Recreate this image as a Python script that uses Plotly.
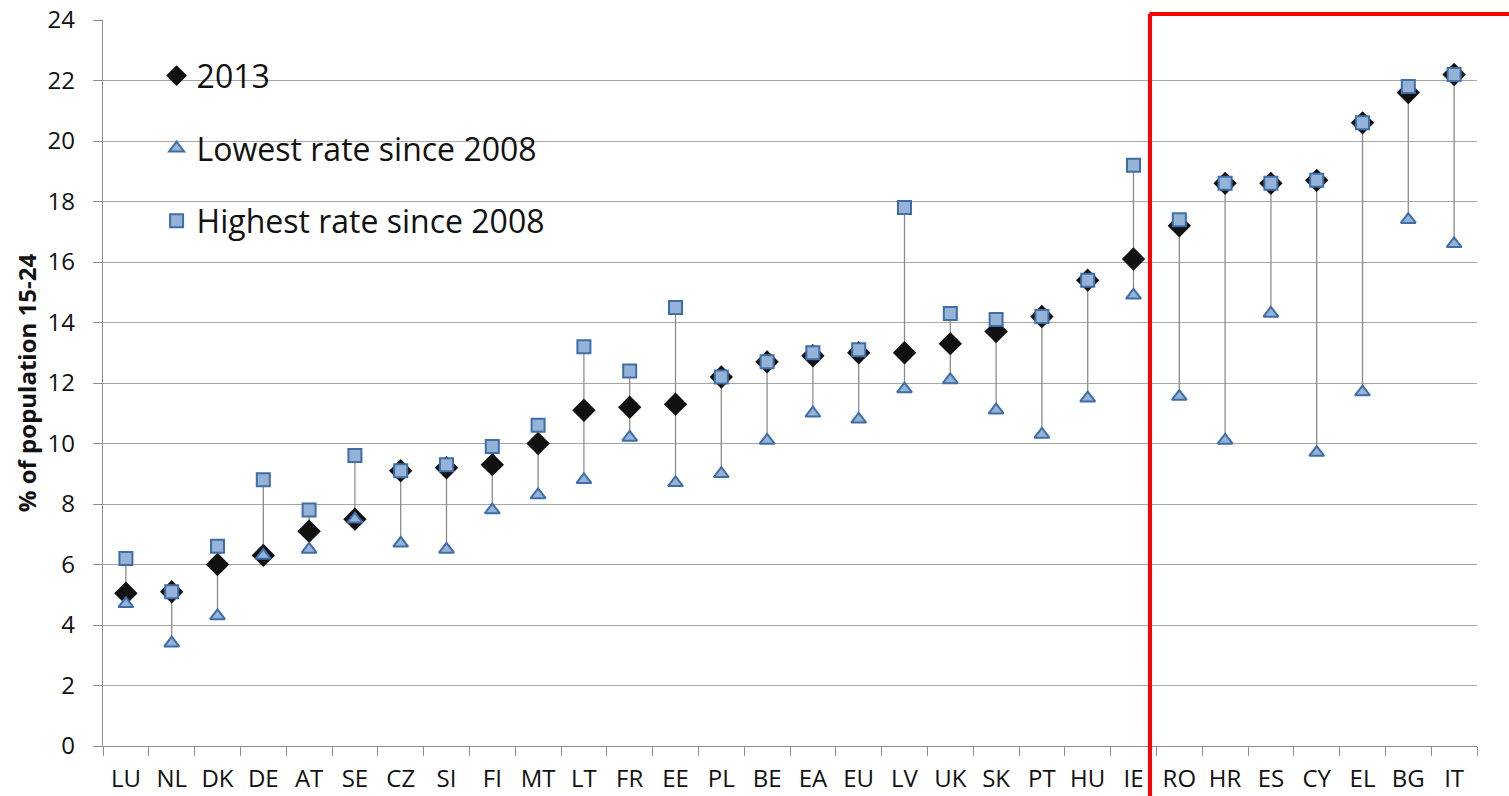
import plotly.graph_objects as go

# youth NEET-style rates, % of population aged 15-24
countries = ["LU", "NL", "DK", "DE", "AT", "SE", "CZ", "SI", "FI", "MT",
             "LT", "FR", "EE", "PL", "BE", "EA", "EU", "LV", "UK", "SK",
             "PT", "HU", "IE", "RO", "HR", "ES", "CY", "EL", "BG", "IT"]
rate_2013 = [5.05, 5.1, 6.0, 6.3, 7.1, 7.5, 9.1, 9.2, 9.3, 10.0,
             11.1, 11.2, 11.3, 12.2, 12.7, 12.9, 13.0, 13.0, 13.3, 13.7,
             14.2, 15.4, 16.1, 17.2, 18.6, 18.6, 18.7, 20.6, 21.6, 22.2]
lowest = [4.7, 3.4, 4.3, 6.3, 6.5, 7.5, 6.7, 6.5, 7.8, 8.3,
          8.8, 10.2, 8.7, 9.0, 10.1, 11.0, 10.8, 11.8, 12.1, 11.1,
          10.3, 11.5, 14.9, 11.55, 10.1, 14.3, 9.7, 11.7, 17.4, 16.6]
highest = [6.2, 5.1, 6.6, 8.8, 7.8, 9.6, 9.1, 9.3, 9.9, 10.6,
           13.2, 12.4, 14.5, 12.2, 12.7, 13.0, 13.1, 17.8, 14.3, 14.1,
           14.2, 15.4, 19.2, 17.4, 18.6, 18.6, 18.7, 20.6, 21.8, 22.2]

FONT = "Open Sans"
FILL = "#95B3D7"
EDGE = "#3E6DA8"

# vertical range lines, low -> high
line_x, line_y = [], []
for c, lo, hi in zip(countries, lowest, highest):
    line_x += [c, c, None]
    line_y += [lo, hi, None]

fig = go.Figure()
fig.add_trace(go.Scatter(x=line_x, y=line_y, mode="lines", showlegend=False,
                         line=dict(color="#8C8C8C", width=1.3), hoverinfo="skip"))
fig.add_trace(go.Scatter(x=countries, y=rate_2013, mode="markers", name="2013",
                         legendgroup="a",
                         marker=dict(symbol="diamond", size=18, color="#111111")))
fig.add_trace(go.Scatter(x=countries, y=lowest, mode="markers",
                         name="Lowest rate since 2008", legendgroup="b",
                         marker=dict(symbol="triangle-up", size=13, color=FILL,
                                     line=dict(color=EDGE, width=2))))
fig.add_trace(go.Scatter(x=countries, y=highest, mode="markers",
                         name="Highest rate since 2008", legendgroup="c",
                         marker=dict(symbol="square", size=13, color=FILL,
                                     line=dict(color=EDGE, width=2))))

# red divider
fig.add_shape(type="line", xref="x", yref="paper", x0=22.36, x1=22.36,
              y0=-0.1, y1=1.0083, line=dict(color="#FF0000", width=4))
fig.add_shape(type="line", xref="paper", yref="paper", x0=0.7615, x1=1.04,
              y0=1.0083, y1=1.0083, line=dict(color="#FF0000", width=4))

fig.update_layout(
    width=1509, height=796,
    margin=dict(l=103, r=32, t=20, b=50),
    paper_bgcolor="white", plot_bgcolor="white",
    font=dict(family=FONT, size=24, color="#111111"),
    showlegend=True,
    legend=dict(x=0.039, y=0.961, xanchor="left", yanchor="top",
                font=dict(size=32, family=FONT), bgcolor="rgba(0,0,0,0)",
                traceorder="grouped", tracegroupgap=28, itemwidth=30),
    xaxis=dict(type="category", range=[-0.5, 29.5], showgrid=False,
               showline=True, linecolor="#8C8C8C", linewidth=1.3,
               ticks="outside", tickson="boundaries", ticklen=9,
               tickcolor="#8C8C8C", tickwidth=1.3, automargin=False,
               ticklabelstandoff=11, ticklabeloverflow="allow",
               tickfont=dict(size=24, family=FONT)),
    yaxis=dict(range=[0, 24], dtick=2, showgrid=True, gridcolor="#A6A6A6",
               gridwidth=1.3, showline=True, linecolor="#8C8C8C", linewidth=1.3,
               ticks="outside", ticklen=9, tickcolor="#8C8C8C", tickwidth=1.3,
               tickfont=dict(size=24, family=FONT), zeroline=False,
               automargin=False, ticklabelstandoff=13, ticklabeloverflow="allow",
               title=dict(text="<b>% of population 15-24</b>", standoff=4,
                          font=dict(size=24, family=FONT))),
)

# drop the default page margin so the figure sits at the window's top-left
fig.write_html("out.html", config={"displayModeBar": False},
               post_script="document.body.style.margin = '0';")
